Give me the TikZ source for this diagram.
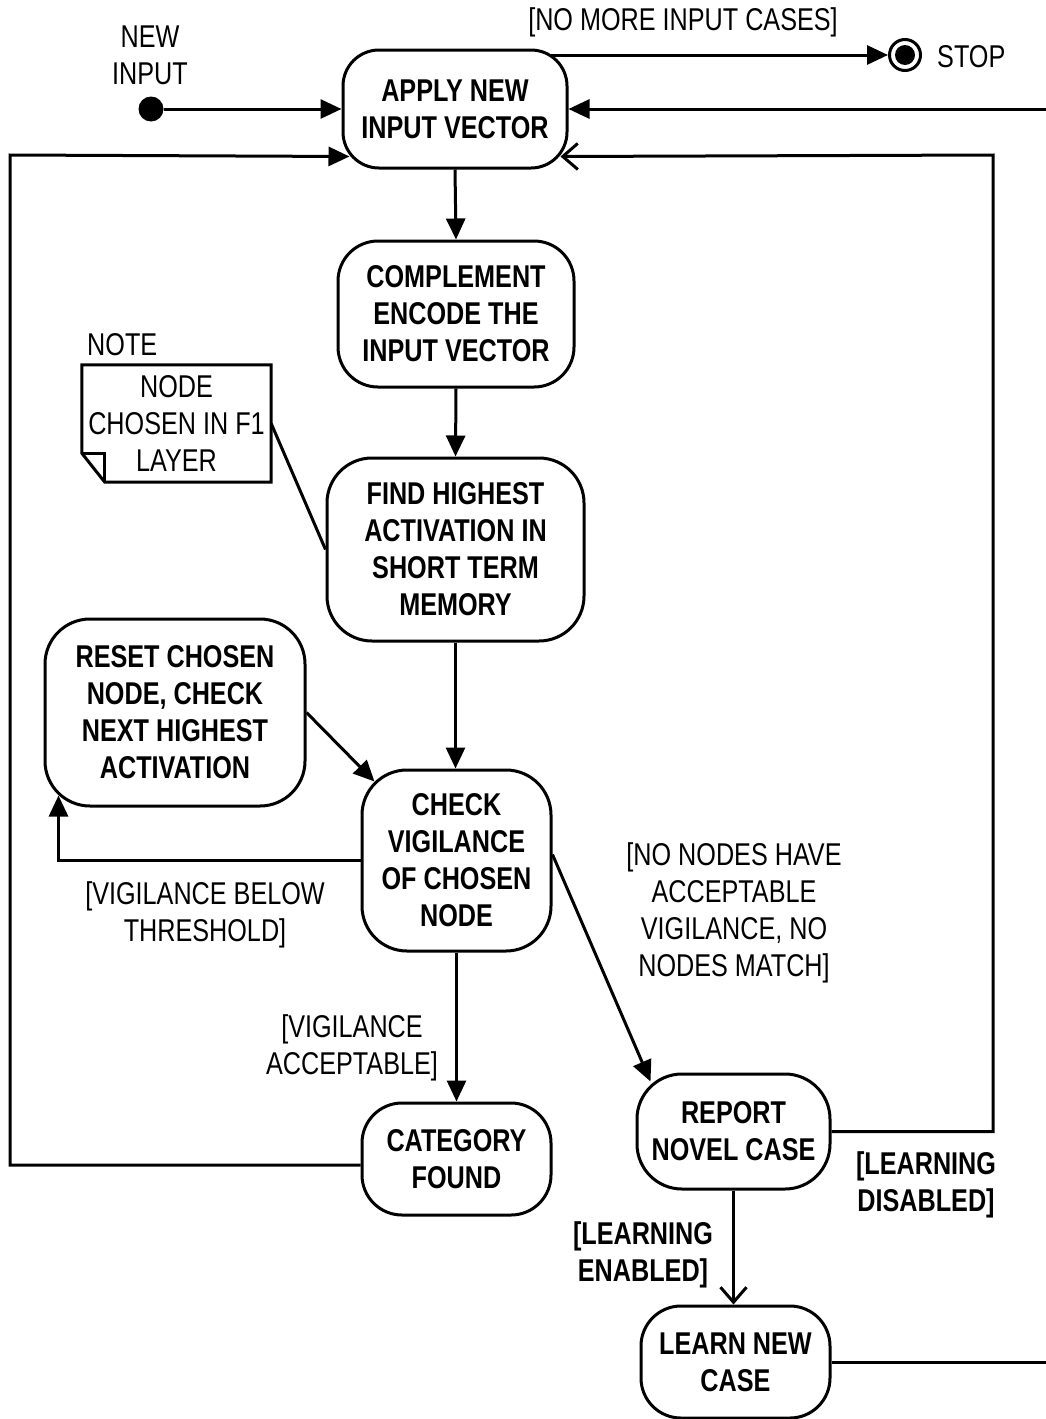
\documentclass[tikz,border=0pt]{standalone}
\usepackage{fontspec}
\setmainfont{Liberation Sans}[FakeStretch=0.8]
\usetikzlibrary{arrows.meta,calc}
\pgfdeclarelayer{bg}
\pgfsetlayers{bg,main}
\begin{document}
\begin{tikzpicture}[x=1pt,y=-1pt,
  every node/.style={font=\fontsize{31.5}{37}\selectfont, inner sep=0pt},
  state/.style={draw, line width=3pt, rounded corners=40pt, fill=white, align=center,
     font=\fontsize{31.5}{37}\selectfont\bfseries},
  lbl/.style={align=center},
  blbl/.style={align=center, font=\fontsize{31.5}{37}\selectfont\bfseries},
  conn/.style={line width=3pt},
  arr/.style={conn, -{Triangle[length=21pt,width=19pt]}},
  oarr/.style={conn, -{Straight Barb[length=15pt,width=26pt]}},
]
\useasboundingbox (0,0) rectangle (1046,1419);

% states
\node[state, minimum width=224pt, minimum height=118pt, rounded corners=36pt] (apply) at (455,109) {APPLY NEW\\INPUT VECTOR};
\node[state, minimum width=236pt, minimum height=146pt] (compl) at (456,314) {COMPLEMENT\\ENCODE THE\\INPUT VECTOR};
\node[state, minimum width=257pt, minimum height=183pt, rounded corners=45pt] (find) at (455.5,549.5) {FIND HIGHEST\\ACTIVATION IN\\SHORT TERM\\MEMORY};
\node[state, minimum width=260pt, minimum height=187pt, rounded corners=45pt] (reset) at (175,712.5) {RESET CHOSEN\\NODE, CHECK\\NEXT HIGHEST\\ACTIVATION};
\node[state, minimum width=189pt, minimum height=181pt, rounded corners=45pt] (check) at (456.5,860.5) {CHECK\\VIGILANCE\\OF CHOSEN\\NODE};
\node[state, minimum width=189pt, minimum height=112pt] (category) at (456.5,1159) {CATEGORY\\FOUND};
\node[state, minimum width=193pt, minimum height=115pt, rounded corners=45pt] (report) at (733.5,1131.5) {REPORT\\NOVEL CASE};
\node[state, minimum width=189pt, minimum height=112pt] (learn) at (735.5,1362) {LEARN NEW\\CASE};

% start and stop
\node[circle, fill, minimum size=25pt] (start) at (151,109) {};
\node[circle, draw, line width=3pt, minimum size=31pt, fill=white] (stop) at (905,55) {};
\fill (stop.center) circle (10pt);
\node[anchor=west] (stoplbl) at (937,57) {STOP};
\node[lbl] (newin) at (150,55) {NEW\\INPUT};

% note
\node[minimum width=189pt, minimum height=117pt, align=center] (note) at (176.5,423.5) {NODE\\CHOSEN IN F1\\LAYER};
\draw[conn, line join=miter] (note.north west) -- (note.north east) -- (note.south east)
   -- ($(note.south west)+(23,0)$) -- ($(note.south west)+(0,-29)$) -- cycle;
\draw[conn] ($(note.south west)+(0,-29)$) -- ++(23,0) -- ($(note.south west)+(23,0)$);
\node[anchor=west] (notelbl) at (87,345) {NOTE};

% labels
\node[lbl] (nomore) at (683,22) {[NO MORE INPUT CASES]};
\node[lbl] (below) at (205,915) {[VIGILANCE BELOW\\THRESHOLD]};
\node[lbl] (nonodes) at (734,913) {[NO NODES HAVE\\ACCEPTABLE\\VIGILANCE, NO\\NODES MATCH]};
\node[lbl] (accept) at (352,1048) {[VIGILANCE\\ACCEPTABLE]};
\node[blbl] (disabled) at (926,1185) {[LEARNING\\DISABLED]};
\node[blbl] (enabled) at (643,1255) {[LEARNING\\ENABLED]};

% connectors
\coordinate (rr) at (1060,109);
\coordinate (rl) at (993,155);
\coordinate (ll) at (10,155);
\begin{pgfonlayer}{bg}
\draw[arr] (start) -- (apply.west);
\draw[arr] (apply.north |- stop.west) -- (stop.west);
\draw[arr] (learn.east) -| (rr) -- (apply.east);
\draw[oarr] (report.east) -| (rl) -- ($(apply.south east)+(-8,-13)$);
\draw[arr] ($(category.west)+(0,6)$) -| (ll) -- ($(apply.south west)+(8,-13)$);
\draw[arr] (apply.south) -- (compl.north);
\draw[arr] (compl.south) -- (find.north);
\draw[arr] (find.south) -- (find.south |- check.north);
\draw[arr] (reset.east) -- ($(check.north west)+(14,13)$);
\draw[arr] (check.west) -| ($(reset.south west)+(15,-12)$);
\draw[arr] (check.south) -- (check.south |- category.north);
\draw[arr] ($(check.east)+(0,-6)$) -- ($(report.north west)+(15,9)$);
\draw[oarr] (report.south) -- (report.south |- learn.north);
\draw[conn] (note.east) -- (find.west);
\end{pgfonlayer}
\end{tikzpicture}
\end{document}
